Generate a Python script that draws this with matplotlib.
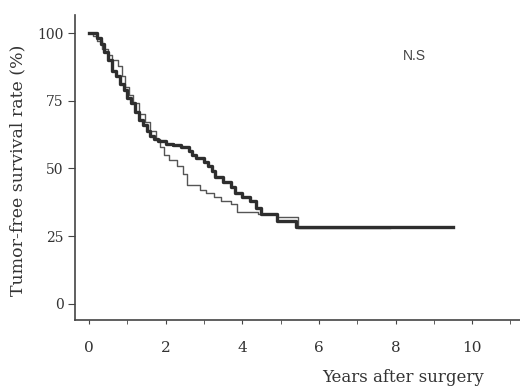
import matplotlib
matplotlib.use("Agg")
import matplotlib.pyplot as plt

# thick line (group 1), Kaplan-Meier steps
t_thick = [0, 0.1, 0.2, 0.3, 0.4, 0.5, 0.6, 0.7, 0.8, 0.9, 1.0, 1.1, 1.2, 1.3,
           1.4, 1.5, 1.6, 1.7, 1.8, 2.0, 2.2, 2.4, 2.6, 2.7, 2.8, 3.0, 3.1,
           3.2, 3.3, 3.5, 3.7, 3.8, 4.0, 4.2, 4.35, 4.5, 4.9, 5.4, 9.5]
s_thick = [100, 100, 98, 96, 93, 90, 86, 84, 81, 79, 76, 74, 71, 68,
           66, 64, 62, 61, 60, 59, 58.5, 58, 56.5, 55, 54, 52.5, 51,
           49, 47, 45, 43, 41, 39.5, 38, 35.5, 33, 30.5, 28.5, 28.5]

# thin line (group 2)
t_thin = [0, 0.1, 0.2, 0.35, 0.5, 0.6, 0.75, 0.85, 0.95, 1.05, 1.15, 1.3,
          1.45, 1.6, 1.75, 1.85, 1.95, 2.1, 2.3, 2.45, 2.55, 2.9, 3.05,
          3.25, 3.45, 3.7, 3.85, 4.4, 4.9, 5.45, 7.86]
s_thin = [100, 99, 97, 94, 92, 90, 88, 84, 80, 77, 74, 70,
          67, 64, 61, 58, 55, 53, 51, 48, 44, 42, 41,
          39.5, 38, 37, 34, 33, 32, 28, 28]

x_ticks = [0, 2, 4, 6, 8, 10]
y_ticks = [0, 25, 50, 75, 100]

fig = plt.figure(figsize=(5.2, 3.88), dpi=100)
ax = fig.add_axes([0.144, 0.175, 0.856, 0.786])

ax.plot(t_thin, s_thin, drawstyle='steps-post', color='#555555', lw=1.0)
ax.plot(t_thick, s_thick, drawstyle='steps-post', color='#2e2e2e', lw=2.4)

ax.set_xlim(-0.37, 11.25)
ax.set_ylim(-6, 106.6)
ax.spines['top'].set_visible(False)
ax.spines['right'].set_visible(False)
for sp in ['left', 'bottom']:
    ax.spines[sp].set_color('#444444')
    ax.spines[sp].set_linewidth(1.2)

ax.set_xticks(x_ticks)
ax.set_xticks(range(0, 12), minor=True)
ax.set_yticks(y_ticks)
ax.tick_params(axis='x', which='both', direction='out', length=3, color='#444444')
ax.tick_params(axis='x', which='major', pad=12, labelsize=11)
ax.tick_params(axis='y', direction='out', length=5, pad=3, labelsize=10,
               color='#444444')
for lab in ax.get_xticklabels() + ax.get_yticklabels():
    lab.set_family('DejaVu Serif')
    lab.set_color('#333333')

ax.text(8.5, 91.5, 'N.S', fontsize=10, color='#444444', ha='center',
        va='center', family='Liberation Sans')

fig.text(0.035, 0.56, 'Tumor-free survival rate (%)', rotation=90,
         ha='center', va='center', fontsize=12.5, family='DejaVu Serif',
         color='#333333')
fig.text(0.775, 0.004, 'Years after surgery', ha='center', va='bottom',
         fontsize=12, family='DejaVu Serif', color='#333333')

fig.savefig('out.png', dpi=100)
